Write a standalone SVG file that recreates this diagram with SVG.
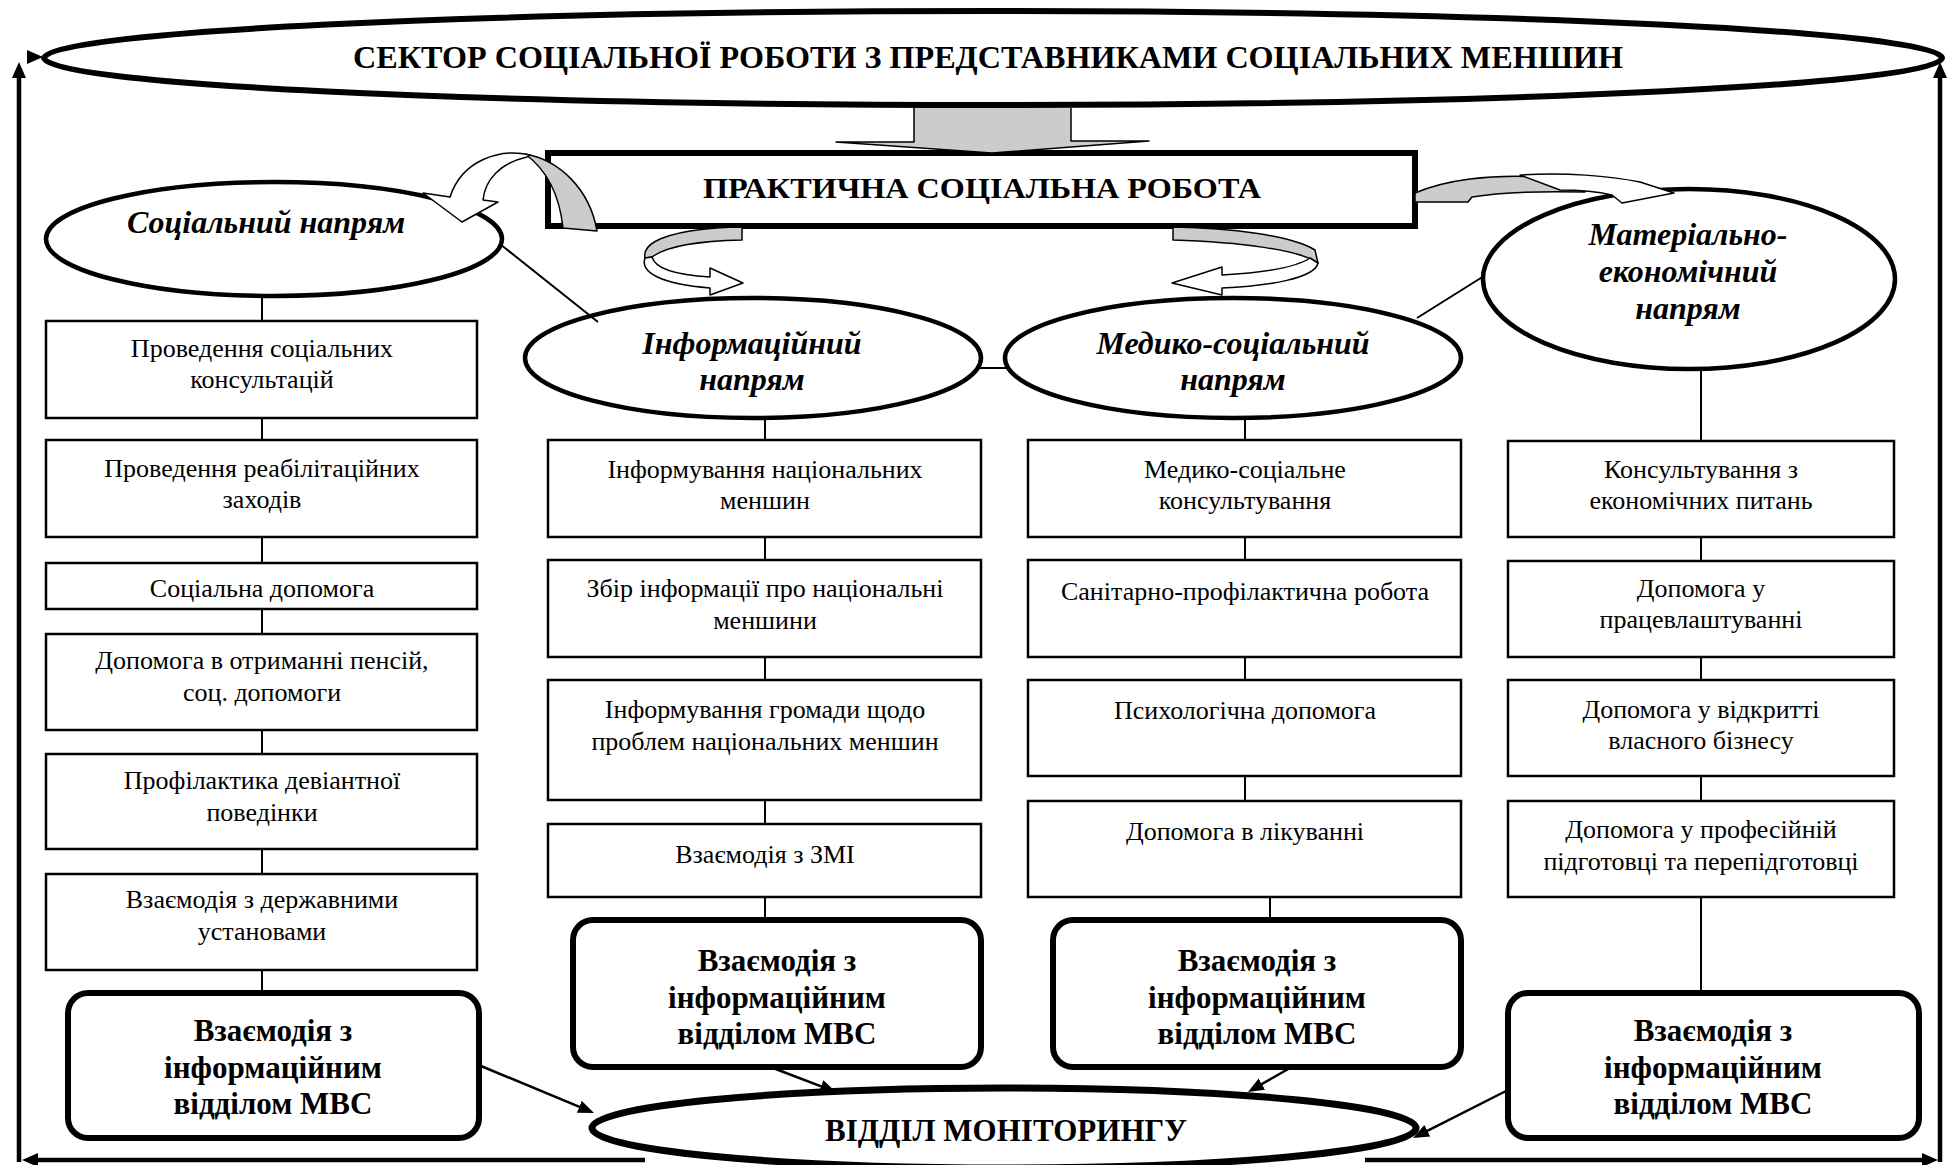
<svg xmlns="http://www.w3.org/2000/svg" width="1950" height="1165" viewBox="0 0 1950 1165">
<defs>
<style>
.box{fill:#fff;stroke:#000;stroke-width:2.5}
.rbox{fill:#fff;stroke:#000;stroke-width:6}
.ell{fill:#fff;stroke:#000;stroke-width:4.5}
text{font-family:"Liberation Serif","Times New Roman",serif;fill:#000;text-anchor:middle}
.t{font-size:26px}
.tb{font-size:31px;font-weight:bold}
.ti{font-size:32px;font-weight:bold;font-style:italic}
.th{font-size:32px;font-weight:bold}
.ln{stroke:#000;stroke-width:2;fill:none}
.fr{stroke:#000;stroke-width:4.5;fill:none}
.ar{stroke:#000;stroke-width:2.5;fill:none}
.gray{fill:#cccccc;stroke:#000;stroke-width:1.5;stroke-linejoin:round}
.wht{fill:#fff;stroke:#000;stroke-width:1.5;stroke-linejoin:round}
</style>
<marker id="fh" markerUnits="userSpaceOnUse" markerWidth="16" markerHeight="14" viewBox="0 0 16 14" refX="10" refY="7" orient="auto"><path d="M0,0 L16,7 L0,14 Z" fill="#000"/></marker>
<marker id="sh" markerUnits="userSpaceOnUse" markerWidth="16" markerHeight="13" viewBox="0 0 16 13" refX="10" refY="6.5" orient="auto"><path d="M0,0 L16,6.5 L0,13 Z" fill="#000"/></marker>
</defs>
<rect width="1950" height="1165" fill="#fff"/>

<g id="sector">
<ellipse cx="993" cy="58" rx="949" ry="47" fill="#fff" stroke="#000" stroke-width="6"/>
<text class="th" x="988" y="68" textLength="1270" lengthAdjust="spacingAndGlyphs">СЕКТОР СОЦІАЛЬНОЇ РОБОТИ З ПРЕДСТАВНИКАМИ СОЦІАЛЬНИХ МЕНШИН</text>
</g>

<g id="practical">
<rect x="548" y="153" width="867" height="73" fill="#fff" stroke="#000" stroke-width="6"/>
<text class="th" x="982" y="198" style="font-size:30px" textLength="558" lengthAdjust="spacingAndGlyphs">ПРАКТИЧНА СОЦІАЛЬНА РОБОТА</text>
</g>

<g id="social-dir">
<ellipse class="ell" cx="274" cy="239" rx="228" ry="57"/>
<text class="ti" x="266" y="233">Соціальний напрям</text>
</g>
<g id="info-dir">
<ellipse class="ell" cx="753" cy="358" rx="228" ry="60"/>
<text class="ti" x="752" y="354">Інформаційний</text>
<text class="ti" x="752" y="390">напрям</text>
</g>
<g id="medical-dir">
<ellipse class="ell" cx="1233" cy="358" rx="228" ry="60"/>
<text class="ti" x="1233" y="354">Медико-соціальний</text>
<text class="ti" x="1233" y="390">напрям</text>
</g>
<g id="material-dir">
<ellipse class="ell" cx="1689" cy="279" rx="206" ry="90"/>
<text class="ti" x="1688" y="245">Матеріально-</text>
<text class="ti" x="1688" y="282">економічний</text>
<text class="ti" x="1688" y="319">напрям</text>
</g>

<g id="s1"><rect class="box" x="46" y="321" width="431" height="97"/><text class="t" x="262" y="357">Проведення соціальних</text><text class="t" x="262" y="388">консультацій</text></g>
<g id="s2"><rect class="box" x="46" y="440" width="431" height="97"/><text class="t" x="262" y="477">Проведення реабілітаційних</text><text class="t" x="262" y="508">заходів</text></g>
<g id="s3"><rect class="box" x="46" y="563" width="431" height="46"/><text class="t" x="262" y="597">Соціальна допомога</text></g>
<g id="s4"><rect class="box" x="46" y="634" width="431" height="96"/><text class="t" x="262" y="669">Допомога в отриманні пенсій,</text><text class="t" x="262" y="701">соц. допомоги</text></g>
<g id="s5"><rect class="box" x="46" y="754" width="431" height="95"/><text class="t" x="262" y="789">Профілактика девіантної</text><text class="t" x="262" y="821">поведінки</text></g>
<g id="s6"><rect class="box" x="46" y="874" width="431" height="96"/><text class="t" x="262" y="908">Взаємодія з державними</text><text class="t" x="262" y="940">установами</text></g>
<g id="s7"><rect class="rbox" x="68" y="993" width="411" height="145" rx="20"/><text class="tb" x="273" y="1041">Взаємодія з</text><text class="tb" x="273" y="1078">інформаційним</text><text class="tb" x="273" y="1114">відділом МВС</text></g>

<g id="i1"><rect class="box" x="548" y="440" width="433" height="97"/><text class="t" x="765" y="478">Інформування національних</text><text class="t" x="765" y="509">меншин</text></g>
<g id="i2"><rect class="box" x="548" y="560" width="433" height="97"/><text class="t" x="765" y="597">Збір інформації про національні</text><text class="t" x="765" y="629">меншини</text></g>
<g id="i3"><rect class="box" x="548" y="680" width="433" height="120"/><text class="t" x="765" y="718">Інформування громади щодо</text><text class="t" x="765" y="750">проблем національних меншин</text></g>
<g id="i4"><rect class="box" x="548" y="824" width="433" height="73"/><text class="t" x="765" y="863">Взаємодія з ЗМІ</text></g>
<g id="i5"><rect class="rbox" x="573" y="920" width="408" height="147" rx="20"/><text class="tb" x="777" y="971">Взаємодія з</text><text class="tb" x="777" y="1008">інформаційним</text><text class="tb" x="777" y="1044">відділом МВС</text></g>

<g id="m1"><rect class="box" x="1028" y="440" width="433" height="97"/><text class="t" x="1245" y="478">Медико-соціальне</text><text class="t" x="1245" y="509">консультування</text></g>
<g id="m2"><rect class="box" x="1028" y="560" width="433" height="97"/><text class="t" x="1245" y="600">Санітарно-профілактична робота</text></g>
<g id="m3"><rect class="box" x="1028" y="680" width="433" height="96"/><text class="t" x="1245" y="719">Психологічна допомога</text></g>
<g id="m4"><rect class="box" x="1028" y="801" width="433" height="96"/><text class="t" x="1245" y="840">Допомога в лікуванні</text></g>
<g id="m5"><rect class="rbox" x="1053" y="920" width="408" height="147" rx="20"/><text class="tb" x="1257" y="971">Взаємодія з</text><text class="tb" x="1257" y="1008">інформаційним</text><text class="tb" x="1257" y="1044">відділом МВС</text></g>

<g id="e1"><rect class="box" x="1508" y="441" width="386" height="96"/><text class="t" x="1701" y="478">Консультування з</text><text class="t" x="1701" y="509">економічних питань</text></g>
<g id="e2"><rect class="box" x="1508" y="561" width="386" height="96"/><text class="t" x="1701" y="597">Допомога у</text><text class="t" x="1701" y="628">працевлаштуванні</text></g>
<g id="e3"><rect class="box" x="1508" y="680" width="386" height="96"/><text class="t" x="1701" y="718">Допомога у відкритті</text><text class="t" x="1701" y="749">власного бізнесу</text></g>
<g id="e4"><rect class="box" x="1508" y="801" width="386" height="96"/><text class="t" x="1701" y="838">Допомога у професійній</text><text class="t" x="1701" y="870">підготовці та перепідготовці</text></g>
<g id="e5"><rect class="rbox" x="1508" y="993" width="411" height="145" rx="20"/><text class="tb" x="1713" y="1041">Взаємодія з</text><text class="tb" x="1713" y="1078">інформаційним</text><text class="tb" x="1713" y="1114">відділом МВС</text></g>

<g id="monitoring">
<ellipse cx="1004" cy="1128" rx="412" ry="40" fill="#fff" stroke="#000" stroke-width="7"/>
<text class="th" x="1006" y="1141" textLength="362" lengthAdjust="spacingAndGlyphs">ВІДДІЛ МОНІТОРИНГУ</text>
</g>

<g id="connectors">
<path class="ln" d="M262,296V321M262,418V440M262,537V563M262,609V634M262,730V754M262,849V874M262,970V993"/>
<path class="ln" d="M765,418V440M765,537V560M765,657V680M765,800V824M765,897V920"/>
<path class="ln" d="M1245,418V440M1245,537V560M1245,657V680M1245,776V801M1270,897V920"/>
<path class="ln" d="M1701,369V441M1701,537V561M1701,657V680M1701,776V801M1701,897V993"/>
<path class="ln" d="M500,244L598,322M978,368H1008M1417,318L1484,276"/>
<path class="ar" d="M481,1066L588.5,1110.7" marker-end="url(#sh)"/>
<path class="ar" d="M773,1068L830.4,1089.9" marker-end="url(#sh)"/>
<path class="ar" d="M1290,1068L1253.2,1089" marker-end="url(#sh)"/>
<path class="ar" d="M1506,1091L1418.4,1135.3" marker-end="url(#sh)"/>
<path class="fr" d="M19,1162V68" marker-end="url(#fh)"/>
<path d="M27,50L43,57L27,64Z" fill="#000"/>
<path class="fr" d="M645,1160H28" marker-end="url(#fh)"/>
<path class="fr" d="M1365,1160H1932" marker-end="url(#fh)"/>
<path class="fr" d="M1940,1162V68" marker-end="url(#fh)"/>
<path d="M914,108V142H836L992,153L1149,141H1071V108Z" fill="#cccccc"/>
<path d="M914,108V142H836L992,153L1149,141H1071V108" fill="none" stroke="#000" stroke-width="1.5" stroke-linejoin="round"/>
<path class="gray" d="M563,228C560,200 550,172 525,154C560,160 590,190 597,231Z"/>
<path class="wht" d="M530,155C500,148 462,160 450,197L423,193L462,222L498,202L483,200C485,180 500,163 527,157Z"/>
<path class="gray" d="M742,227L742,240C700,241 668,245 652,257L645,258C642,245 660,236 690,231C710,228 725,227 742,227Z"/>
<path class="wht" d="M645,258C640,272 660,284 710,288L710,295L743,283L710,268L710,277C675,275 655,268 652,257Z"/>
<path class="gray" d="M1173,227C1230,228 1290,235 1315,250L1318,263C1300,250 1240,242 1173,240Z"/>
<path class="wht" d="M1318,263C1315,278 1270,286 1222,288L1222,295L1172,283L1222,267L1222,275C1260,273 1295,268 1310,258Z"/>
<path class="gray" d="M1415,193C1445,180 1490,174 1540,177C1560,182 1575,187 1585,192C1540,191 1495,193 1472,197L1468,202L1415,202Z"/>
<path class="wht" d="M1520,175C1565,172 1610,176 1640,182L1674,193L1622,203L1612,195C1595,191 1575,190 1560,190Z"/>
</g>
</svg>
